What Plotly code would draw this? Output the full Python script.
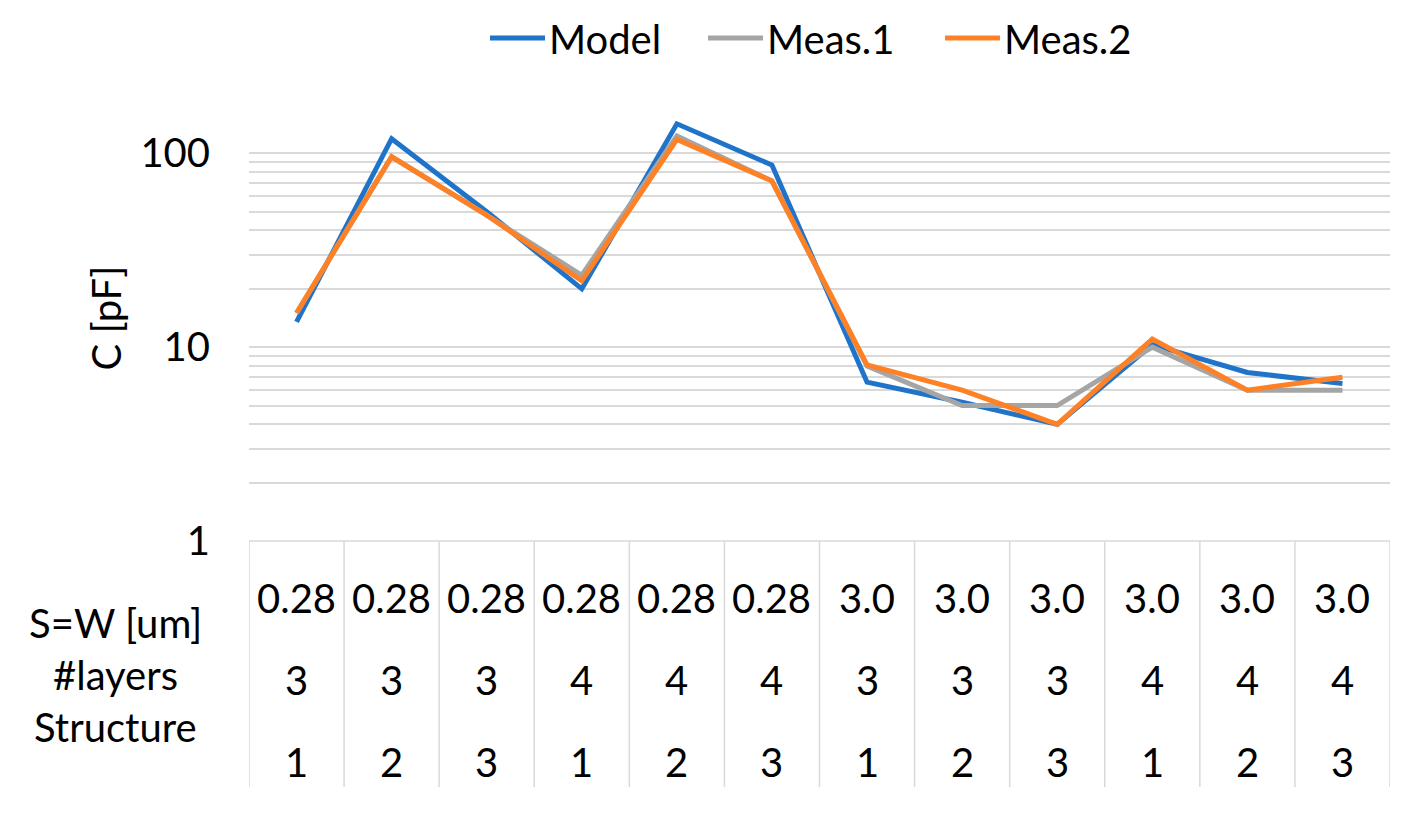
import plotly.graph_objects as go

# ---- data ----
sw_um = ["0.28", "0.28", "0.28", "0.28", "0.28", "0.28", "3.0", "3.0", "3.0", "3.0", "3.0", "3.0"]
n_layers = ["3", "3", "3", "4", "4", "4", "3", "3", "3", "4", "4", "4"]
structure = ["1", "2", "3", "1", "2", "3", "1", "2", "3", "1", "2", "3"]
model = [13.5, 119, 50, 20, 142, 87, 6.6, 5.2, 4.0, 10.3, 7.4, 6.5]
meas1 = [15, 96, 48, 23.5, 123, 72, 8, 5, 5, 10, 6, 6]
meas2 = [15, 96, 48, 22, 118, 72, 8.1, 6, 4, 11, 6, 7]
series_names = ["Model", "Meas.1", "Meas.2"]
row_labels = ["S=W [um]", "#layers", "Structure"]
y_ticks = [1, 10, 100]

cats = [f"{a}|{b}|{c}" for a, b, c in zip(sw_um, n_layers, structure)]

FONT = "Lato"
COLORS = ["#1F74C9", "#A5A5A5", "#FF8126"]
GRID = "#D9D9D9"

fig = go.Figure()
for name, vals, col in zip(series_names, [model, meas1, meas2], COLORS):
    fig.add_trace(go.Scatter(x=cats, y=vals, name=name, mode="lines",
                             line=dict(color=col, width=5), showlegend=False))

# gridlines at all decade subdivisions, labels only at decades
grid_vals = []
for dec in [1, 10, 100]:
    for m in range(1, 10):
        v = dec * m
        if v <= 200:
            grid_vals.append(v)
tick_text = [str(v) if v in y_ticks else "" for v in grid_vals]

# page has an 8px body margin; page-space plot area: x 249..1390, y 95..541
OFF = 8
W, H = 1414 - OFF, 826 - OFF
PL, PR, PT, PB = 249, 1390, 95, 541
L, R, T = PL - OFF, (W + OFF) - PR, PT - OFF
B = (H + OFF) - PB
pw, ph = PR - PL, PB - PT

def py(pix):
    return (PB - pix) / ph

def px(pix):
    return (pix - PL) / pw

shapes = []
shapes.append(dict(type="line", xref="x", yref="paper", x0=-0.5, x1=len(cats) - 0.5,
                   y0=0, y1=0, line=dict(color=GRID, width=1.5)))
for i in range(len(cats) + 1):
    shapes.append(dict(type="line", xref="x", yref="paper", x0=i - 0.5, x1=i - 0.5,
                       y0=0, y1=py(787), line=dict(color=GRID, width=1.5)))

ann = []
for vals, ypix in [(sw_um, 598), (n_layers, 680), (structure, 762)]:
    for c, v in zip(cats, vals):
        ann.append(dict(x=c, y=py(ypix), xref="x", yref="paper", text=v, showarrow=False,
                        xanchor="center", yanchor="middle",
                        font=dict(family=FONT, size=40, color="black")))
for lab, ypix in zip(row_labels, [623, 675, 727]):
    ann.append(dict(x=px(115), y=py(ypix), xref="paper", yref="paper",
                    text=lab, showarrow=False, xanchor="center", yanchor="middle",
                    font=dict(family=FONT, size=40, color="black")))

# legend (drawn manually to match the wide line samples)
leg_x = [490, 708, 945]
for name, col, x0 in zip(series_names, COLORS, leg_x):
    shapes.append(dict(type="line", xref="paper", yref="paper", x0=px(x0), x1=px(x0 + 55),
                       y0=py(38), y1=py(38), line=dict(color=col, width=5)))
    ann.append(dict(x=px(x0 + 57), y=py(39), xref="paper", yref="paper", text=name,
                    showarrow=False, xanchor="left", yanchor="middle",
                    font=dict(family=FONT, size=40, color="black")))

fig.update_layout(
    width=W, height=H,
    margin=dict(l=L, r=R, t=T, b=B),
    plot_bgcolor="white", paper_bgcolor="white",
    font=dict(family=FONT, size=40, color="black"),
    showlegend=False,
    xaxis=dict(type="category", range=[-0.5, len(cats) - 0.5], showticklabels=False,
               showgrid=False, zeroline=False, showline=False, ticks=""),
    yaxis=dict(type="log", range=[0, 2.30103], tickvals=grid_vals, ticktext=tick_text,
               showgrid=True, gridcolor=GRID, gridwidth=1.5, zeroline=False,
               showline=False, ticks="", ticklabelstandoff=38,
               tickfont=dict(family=FONT, size=40),
               title=dict(text="C [pF]", standoff=6, font=dict(family=FONT, size=40))),
    shapes=shapes, annotations=ann,
)

fig.write_html("out.html")
